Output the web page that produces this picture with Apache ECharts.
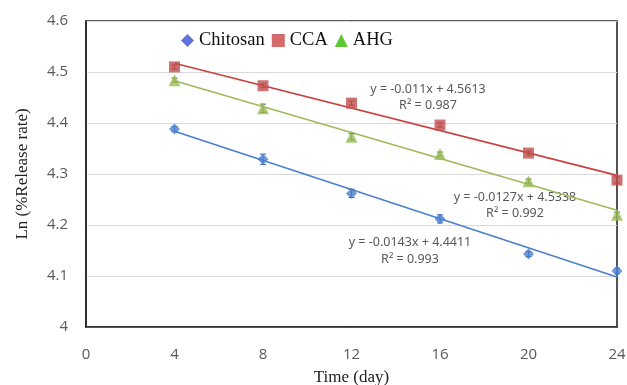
<!DOCTYPE html>
<html>
<head>
<meta charset="utf-8">
<script src="https://cdn.jsdelivr.net/npm/echarts@6/dist/echarts.min.js"></script>
<style>
  html, body { margin: 0; padding: 0; background: #fff; }
  #chart { width: 627px; height: 385px; }
</style>
</head>
<body>
<div id="chart"></div>
<script>
var days = [4, 8, 12, 16, 20, 24];
var chitosan = [4.388, 4.329, 4.262, 4.212, 4.143, 4.110];
var cca = [4.510, 4.473, 4.439, 4.396, 4.341, 4.288];
var ahg = [4.484, 4.429, 4.373, 4.339, 4.286, 4.220];
var chitosanErr = [0.005, 0.010, 0.008, 0.008, 0.005, 0.005];
var ccaErr = [0.004, 0.004, 0.004, 0.004, 0.004, 0.006];
var ahgErr = [0.004, 0.008, 0.006, 0.004, 0.004, 0.005];
// trendline ends at day 4 and day 24, from the printed equations
var trendDays = [4, 24];
var chitosanTrend = [4.3839, 4.0979];
var ccaTrend = [4.5173, 4.2973];
var ahgTrend = [4.4830, 4.2290];
var yTicks = [4, 4.1, 4.2, 4.3, 4.4, 4.5, 4.6];

var cBlue = '#4a7fd0', cRed = '#c9403f', cGreen = '#9bbb59';

function pairs(xs, ys) {
  return xs.map(function (x, i) { return [x, ys[i]]; });
}
function errData(ys, es) {
  return days.map(function (d, i) { return [d, ys[i] - es[i], ys[i] + es[i]]; });
}
function errSeries(ys, es, color) {
  return {
    type: 'custom',
    data: errData(ys, es),
    z: 3,
    silent: true,
    renderItem: function (params, api) {
      var lo = api.coord([api.value(0), api.value(1)]);
      var hi = api.coord([api.value(0), api.value(2)]);
      var w = 3;
      return {
        type: 'group',
        children: [
          { type: 'line', shape: { x1: lo[0], y1: lo[1], x2: hi[0], y2: hi[1] }, style: { stroke: color, lineWidth: 1 } },
          { type: 'line', shape: { x1: lo[0] - w, y1: lo[1], x2: lo[0] + w, y2: lo[1] }, style: { stroke: color, lineWidth: 1 } },
          { type: 'line', shape: { x1: hi[0] - w, y1: hi[1], x2: hi[0] + w, y2: hi[1] }, style: { stroke: color, lineWidth: 1 } }
        ]
      };
    }
  };
}
function trendSeries(ys, color) {
  return {
    type: 'line',
    data: pairs(trendDays, ys),
    showSymbol: false,
    silent: true,
    z: 2,
    lineStyle: { color: color, width: 1.6 }
  };
}
var eqStyle = { fill: '#595959', font: '12.5px "Noto Sans", sans-serif', align: 'center' };
function eqText(x, y, str) {
  return { type: 'text', x: x, y: y, style: Object.assign({ text: str }, eqStyle) };
}

var chart = echarts.init(document.getElementById('chart'));
chart.setOption({
  animation: false,
  grid: { left: 86, right: 10, top: 21, bottom: 58, outerBoundsMode: 'none',
    show: true, borderColor: '#2a2a2a', borderWidth: 1.6 },
  legend: {
    left: 176, top: 26,
    itemGap: 7,
    itemWidth: 13, itemHeight: 13,
    textStyle: { fontFamily: '"Liberation Serif", serif', fontSize: 18.5, color: '#111' },
    data: [
      { name: 'Chitosan', icon: 'diamond', itemStyle: { color: '#3a4fd0' } },
      { name: 'CCA', icon: 'rect', itemStyle: { color: '#cc4444' } },
      { name: 'AHG', icon: 'triangle', itemStyle: { color: '#33bb00' } }
    ]
  },
  xAxis: {
    type: 'value', min: 0, max: 24, interval: 4,
    name: 'Time (day)', nameLocation: 'middle', nameGap: 42,
    nameTextStyle: { fontFamily: '"Liberation Serif", serif', fontSize: 17, color: '#222' },
    axisLine: { lineStyle: { color: '#2a2a2a', width: 1.6 } },
    axisTick: { show: false },
    splitLine: { show: false },
    axisLabel: { margin: 20, fontSize: 15, color: '#595959', fontFamily: '"Open Sans", sans-serif' }
  },
  yAxis: {
    type: 'value', min: yTicks[0], max: yTicks[yTicks.length - 1], interval: 0.1,
    name: 'Ln (%Release rate)', nameLocation: 'middle', nameGap: 55, nameRotate: 90,
    nameTextStyle: { fontFamily: '"Liberation Serif", serif', fontSize: 17, color: '#222' },
    axisLine: { show: true, lineStyle: { color: '#2a2a2a', width: 1.6 } },
    axisTick: { show: false },
    splitLine: { lineStyle: { color: '#d9d9d9' } },
    axisLabel: { margin: 18, fontSize: 15, color: '#595959', fontFamily: '"Open Sans", sans-serif',
      formatter: function (v) { return String(Math.round(v * 10) / 10); } }
  },
  series: [
    trendSeries(chitosanTrend, cBlue),
    trendSeries(ccaTrend, cRed),
    trendSeries(ahgTrend, cGreen),
    errSeries(chitosan, chitosanErr, '#3a5fb0'),
    errSeries(cca, ccaErr, '#7a3030'),
    errSeries(ahg, ahgErr, '#556b2f'),
    { name: 'Chitosan', type: 'scatter', data: pairs(days, chitosan), symbol: 'diamond', symbolSize: 11, z: 4,
      itemStyle: { color: cBlue } },
    { name: 'CCA', type: 'scatter', data: pairs(days, cca), symbol: 'rect', symbolSize: 11, z: 4,
      itemStyle: { color: '#c0504d' } },
    { name: 'AHG', type: 'scatter', data: pairs(days, ahg), symbol: 'triangle', symbolSize: 12, z: 4,
      itemStyle: { color: '#9bbb59' } }
  ],
  graphic: [
    eqText(428, 83, 'y = -0.011x + 4.5613'),
    eqText(428, 99, 'R² = 0.987'),
    eqText(515, 191, 'y = -0.0127x + 4.5338'),
    eqText(515, 207, 'R² = 0.992'),
    eqText(410, 236, 'y = -0.0143x + 4.4411'),
    eqText(410, 253, 'R² = 0.993')
  ]
});
</script>
</body>
</html>
